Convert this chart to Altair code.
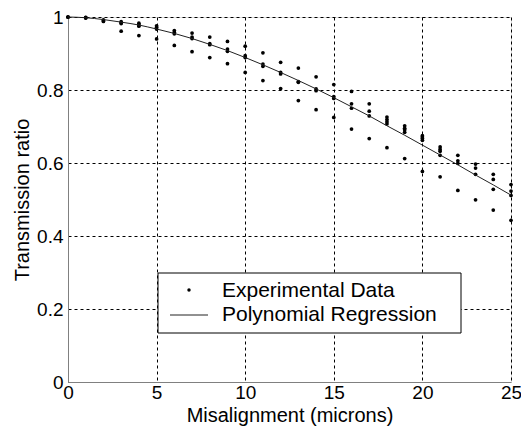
import altair as alt
import pandas as pd

exp_x = ([0, 0, 0] + [1, 1, 1] + [2, 2, 2] + [3, 3, 3, 3] + [4, 4, 4, 4] + [5, 5, 5, 5]
         + [6, 6, 6, 6] + [7, 7, 7, 7] + [8, 8, 8, 8] + [9, 9, 9, 9] + [10, 10, 10, 10]
         + [11, 11, 11, 11] + [12, 12, 12, 12] + [13, 13, 13, 13] + [14, 14, 14, 14]
         + [15, 15, 15, 15] + [16, 16, 16, 16] + [17, 17, 17, 17] + [18, 18, 18, 18, 18]
         + [19, 19, 19, 19, 19] + [20, 20, 20, 20, 20] + [21, 21, 21, 21, 21]
         + [22, 22, 22, 22] + [23, 23, 23, 23] + [24, 24, 24, 24] + [25, 25, 25, 25])
exp_y = ([1.000, 1.000, 1.000] + [0.999, 0.998, 0.997] + [0.992, 0.990, 0.988]
         + [0.987, 0.984, 0.982, 0.961] + [0.983, 0.979, 0.975, 0.949]
         + [0.976, 0.972, 0.967, 0.940] + [0.963, 0.958, 0.954, 0.922]
         + [0.956, 0.945, 0.941, 0.905] + [0.945, 0.927, 0.924, 0.889]
         + [0.933, 0.912, 0.906, 0.872] + [0.920, 0.894, 0.889, 0.848]
         + [0.902, 0.871, 0.865, 0.826] + [0.876, 0.848, 0.844, 0.804]
         + [0.860, 0.823, 0.821, 0.771] + [0.836, 0.803, 0.798, 0.746]
         + [0.815, 0.782, 0.777, 0.725] + [0.796, 0.762, 0.750, 0.693]
         + [0.762, 0.742, 0.729, 0.667] + [0.726, 0.719, 0.713, 0.707, 0.642]
         + [0.702, 0.695, 0.691, 0.684, 0.612] + [0.675, 0.671, 0.667, 0.662, 0.577]
         + [0.644, 0.637, 0.632, 0.621, 0.562] + [0.621, 0.606, 0.599, 0.525]
         + [0.597, 0.586, 0.569, 0.499] + [0.569, 0.555, 0.528, 0.471]
         + [0.541, 0.523, 0.511, 0.443])

# Regression curve values
fit_x = list(range(0, 26))
fit_y = [1.000, 0.998, 0.993, 0.986, 0.978, 0.967, 0.955, 0.941, 0.925, 0.908,
         0.889, 0.869, 0.848, 0.826, 0.803, 0.779, 0.754, 0.729, 0.702, 0.676,
         0.649, 0.622, 0.595, 0.567, 0.540, 0.512]

x_ticks = [0, 5, 10, 15, 20, 25]
y_ticks = [0, 0.2, 0.4, 0.6, 0.8, 1]
legend_labels = ["Experimental Data", "Polynomial Regression"]

FONT = "Liberation Sans"

exp_df = pd.DataFrame({"x": exp_x, "y": exp_y})
fit_df = pd.DataFrame({"x": fit_x, "y": fit_y})

xs = alt.Scale(domain=[0, 25], nice=False, zero=False)
ys = alt.Scale(domain=[0, 1], nice=False, zero=False)

x_axis = alt.Axis(values=x_ticks, title="Misalignment (microns)", grid=True,
                  gridDash=[3, 3], gridColor="#000000", gridOpacity=1,
                  ticks=False, domainColor="#808080", labelFlush=False,
                  labelFontSize=19, labelFont=FONT, labelColor="#000000",
                  labelPadding=1, titleFontSize=20, titleFont=FONT,
                  titleFontWeight="normal", titleColor="#000000", titlePadding=3)
y_axis = alt.Axis(values=y_ticks, format="~g", title="Transmission ratio", grid=True,
                  gridDash=[3, 3], gridColor="#000000", gridOpacity=1,
                  ticks=False, domainColor="#808080", labelFlush=False,
                  labelFontSize=19, labelFont=FONT, labelColor="#000000",
                  labelPadding=5, titleFontSize=20, titleFont=FONT,
                  titleFontWeight="normal", titleColor="#000000", titlePadding=4)

points = alt.Chart(exp_df).mark_circle(size=14, color="#000000", opacity=1).encode(
    x=alt.X("x:Q", scale=xs, axis=x_axis),
    y=alt.Y("y:Q", scale=ys, axis=y_axis),
)

curve = alt.Chart(fit_df).mark_line(color="#222222", strokeWidth=1, interpolate="monotone").encode(
    x=alt.X("x:Q", scale=xs),
    y=alt.Y("y:Q", scale=ys),
)

# legend box placed in the plot area's pixel frame (origin at plot top-left)
one = pd.DataFrame({"k": [0]})
leg_box = alt.Chart(one).mark_rect(fill="white", stroke="black", strokeWidth=1).encode(
    x=alt.value(90), x2=alt.value(393), y=alt.value(256), y2=alt.value(316))
leg_dot = alt.Chart(one).mark_circle(size=12, color="black", opacity=1).encode(
    x=alt.value(121), y=alt.value(273))
leg_line = alt.Chart(one).mark_rule(color="#222222", strokeWidth=1).encode(
    x=alt.value(102), x2=alt.value(140), y=alt.value(298))
leg_text1 = alt.Chart(one).mark_text(text=legend_labels[0], align="left", baseline="middle",
                                      font=FONT, fontSize=21, color="black").encode(
    x=alt.value(154), y=alt.value(274))
leg_text2 = alt.Chart(one).mark_text(text=legend_labels[1], align="left", baseline="middle",
                                      font=FONT, fontSize=21, color="black").encode(
    x=alt.value(154), y=alt.value(298))

chart = alt.layer(points, curve, leg_box, leg_dot, leg_line, leg_text1, leg_text2).properties(
    width=443, height=365,
    autosize=alt.AutoSizeParams(type="none"),
    padding={"left": 60, "top": 9, "right": 10, "bottom": 45},
).configure_view(stroke=None).configure(background="white")

chart.save("out.html", embed_options={"renderer": "svg", "actions": False})
